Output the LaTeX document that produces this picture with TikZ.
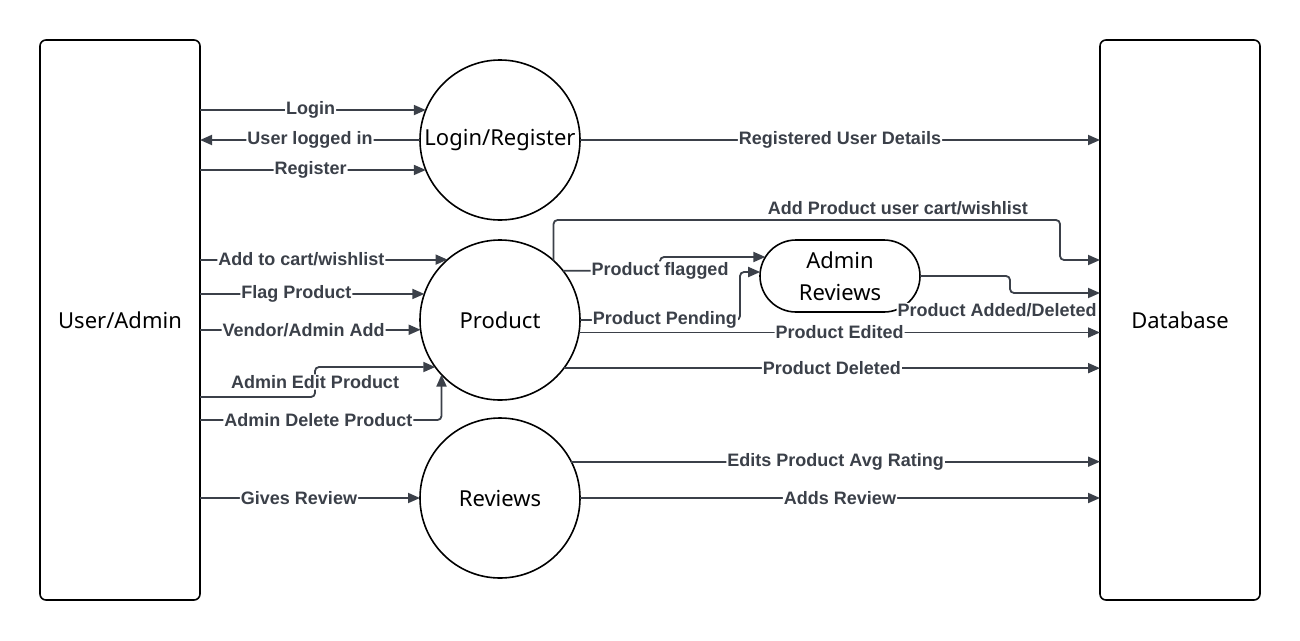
\documentclass[tikz,border=0pt]{standalone}
\usepackage{fontspec}
\setmainfont{Noto Sans}
\newfontfamily\lblfont{Liberation Sans}
\usetikzlibrary{arrows.meta,calc}
\definecolor{edgec}{HTML}{3B4049}
\begin{document}
\begin{tikzpicture}[x=1pt,y=-1pt,
  ent/.style={draw=black, line width=1.6pt, rounded corners=6pt, minimum width=160pt, minimum height=560pt, outer sep=0pt, font=\fontsize{22}{26}\selectfont},
  proc/.style={circle, draw=black, line width=1.6pt, minimum size=160pt, inner sep=0pt, outer sep=0pt, font=\fontsize{22}{26}\selectfont},
  stad/.style={draw=black, line width=1.6pt, rounded corners=36pt, minimum width=160pt, minimum height=72pt, inner sep=0pt, outer sep=0pt, align=center, font=\fontsize{22}{32}\selectfont},
  arr/.style={draw=edgec, line width=1.8pt, rounded corners=4pt, -{Triangle[length=12pt,width=10pt]}},
  lbl/.style={fill=white, inner sep=1pt, text=edgec, font=\lblfont\bfseries\fontsize{18}{21}\selectfont},
]
\useasboundingbox (0,0) rectangle (1300,640);
\node[ent] (user) at (120,320) {User/Admin};
\node[ent] (db) at (1180,320) {Database};
\node[proc] (login) at (500,140) {\makebox[0pt]{Login/Register}};
\node[proc] (product) at (500,320) {\makebox[0pt]{Product}};
\node[proc] (reviews) at (500,498) {\makebox[0pt]{Reviews}};
\node[stad] (ar) at (840,276) {Admin\\Reviews};

\draw[arr] (user.east |- login.158) -- node[lbl,pos=0.49]{Login} (login.158);
\draw[arr] (login.west) -- node[lbl]{User logged in} (user.east |- login.west);
\draw[arr] (user.east |- login.202) -- node[lbl,pos=0.49]{Register} (login.202);
\draw[arr] (login.east) -- node[lbl]{Registered User Details} (db.west |- login.east);

\draw[arr] (user.east |- product.131.4) -- node[lbl,pos=0.41]{Add to cart/wishlist} (product.131.4);
\draw[arr] (user.east |- product.161.8) -- node[lbl,pos=0.43]{Flag Product} (product.161.8);
\draw[arr] (user.east |- product.187.2) -- node[lbl,pos=0.47]{Vendor/Admin Add} (product.187.2);
\draw[arr] (user.east |- 0,397) -| node[lbl,pos=0.75]{Admin Edit Product} (315,367) -- (product.216);
\draw[arr] (user.east |- 0,420) -| node[lbl,pos=0.245]{Admin Delete Product} (product.223.5);

\draw[arr] (product.48.5) |- node[lbl,pos=0.84,above=3pt]{Add Product user cart/wishlist} (1060,220) |- (db.west |- 0,260);
\draw[arr] (product.38.7) -| node[lbl,pos=0.5]{Product flagged} (660,257) -- ($(ar.center)+(-74.6,-19)$);
\draw[arr] (product.east) -| node[lbl,pos=0.265]{Product Pending} (740,272) -- ($(ar.center)+(-79.8,-4)$);
\draw[arr] (ar.east) -| (1010,293) -- node[lbl,pos=1,anchor=north east,yshift=-9pt,xshift=-1.5pt]{Product Added/Deleted} (db.west |- 0,293);
\draw[arr] (product.351.4) -- node[lbl]{Product Edited} (db.west |- product.351.4);
\draw[arr] (product.323.1) -- node[lbl]{Product Deleted} (db.west |- product.323.1);

\draw[arr] (reviews.27.5) -- node[lbl]{Edits Product Avg Rating} (db.west |- reviews.27.5);
\draw[arr] (reviews.east) -- node[lbl]{Adds Review} (db.west |- reviews.east);
\draw[arr] (user.east |- reviews.west) -- node[lbl,pos=0.45]{Gives Review} (reviews.west);
\end{tikzpicture}
\end{document}
